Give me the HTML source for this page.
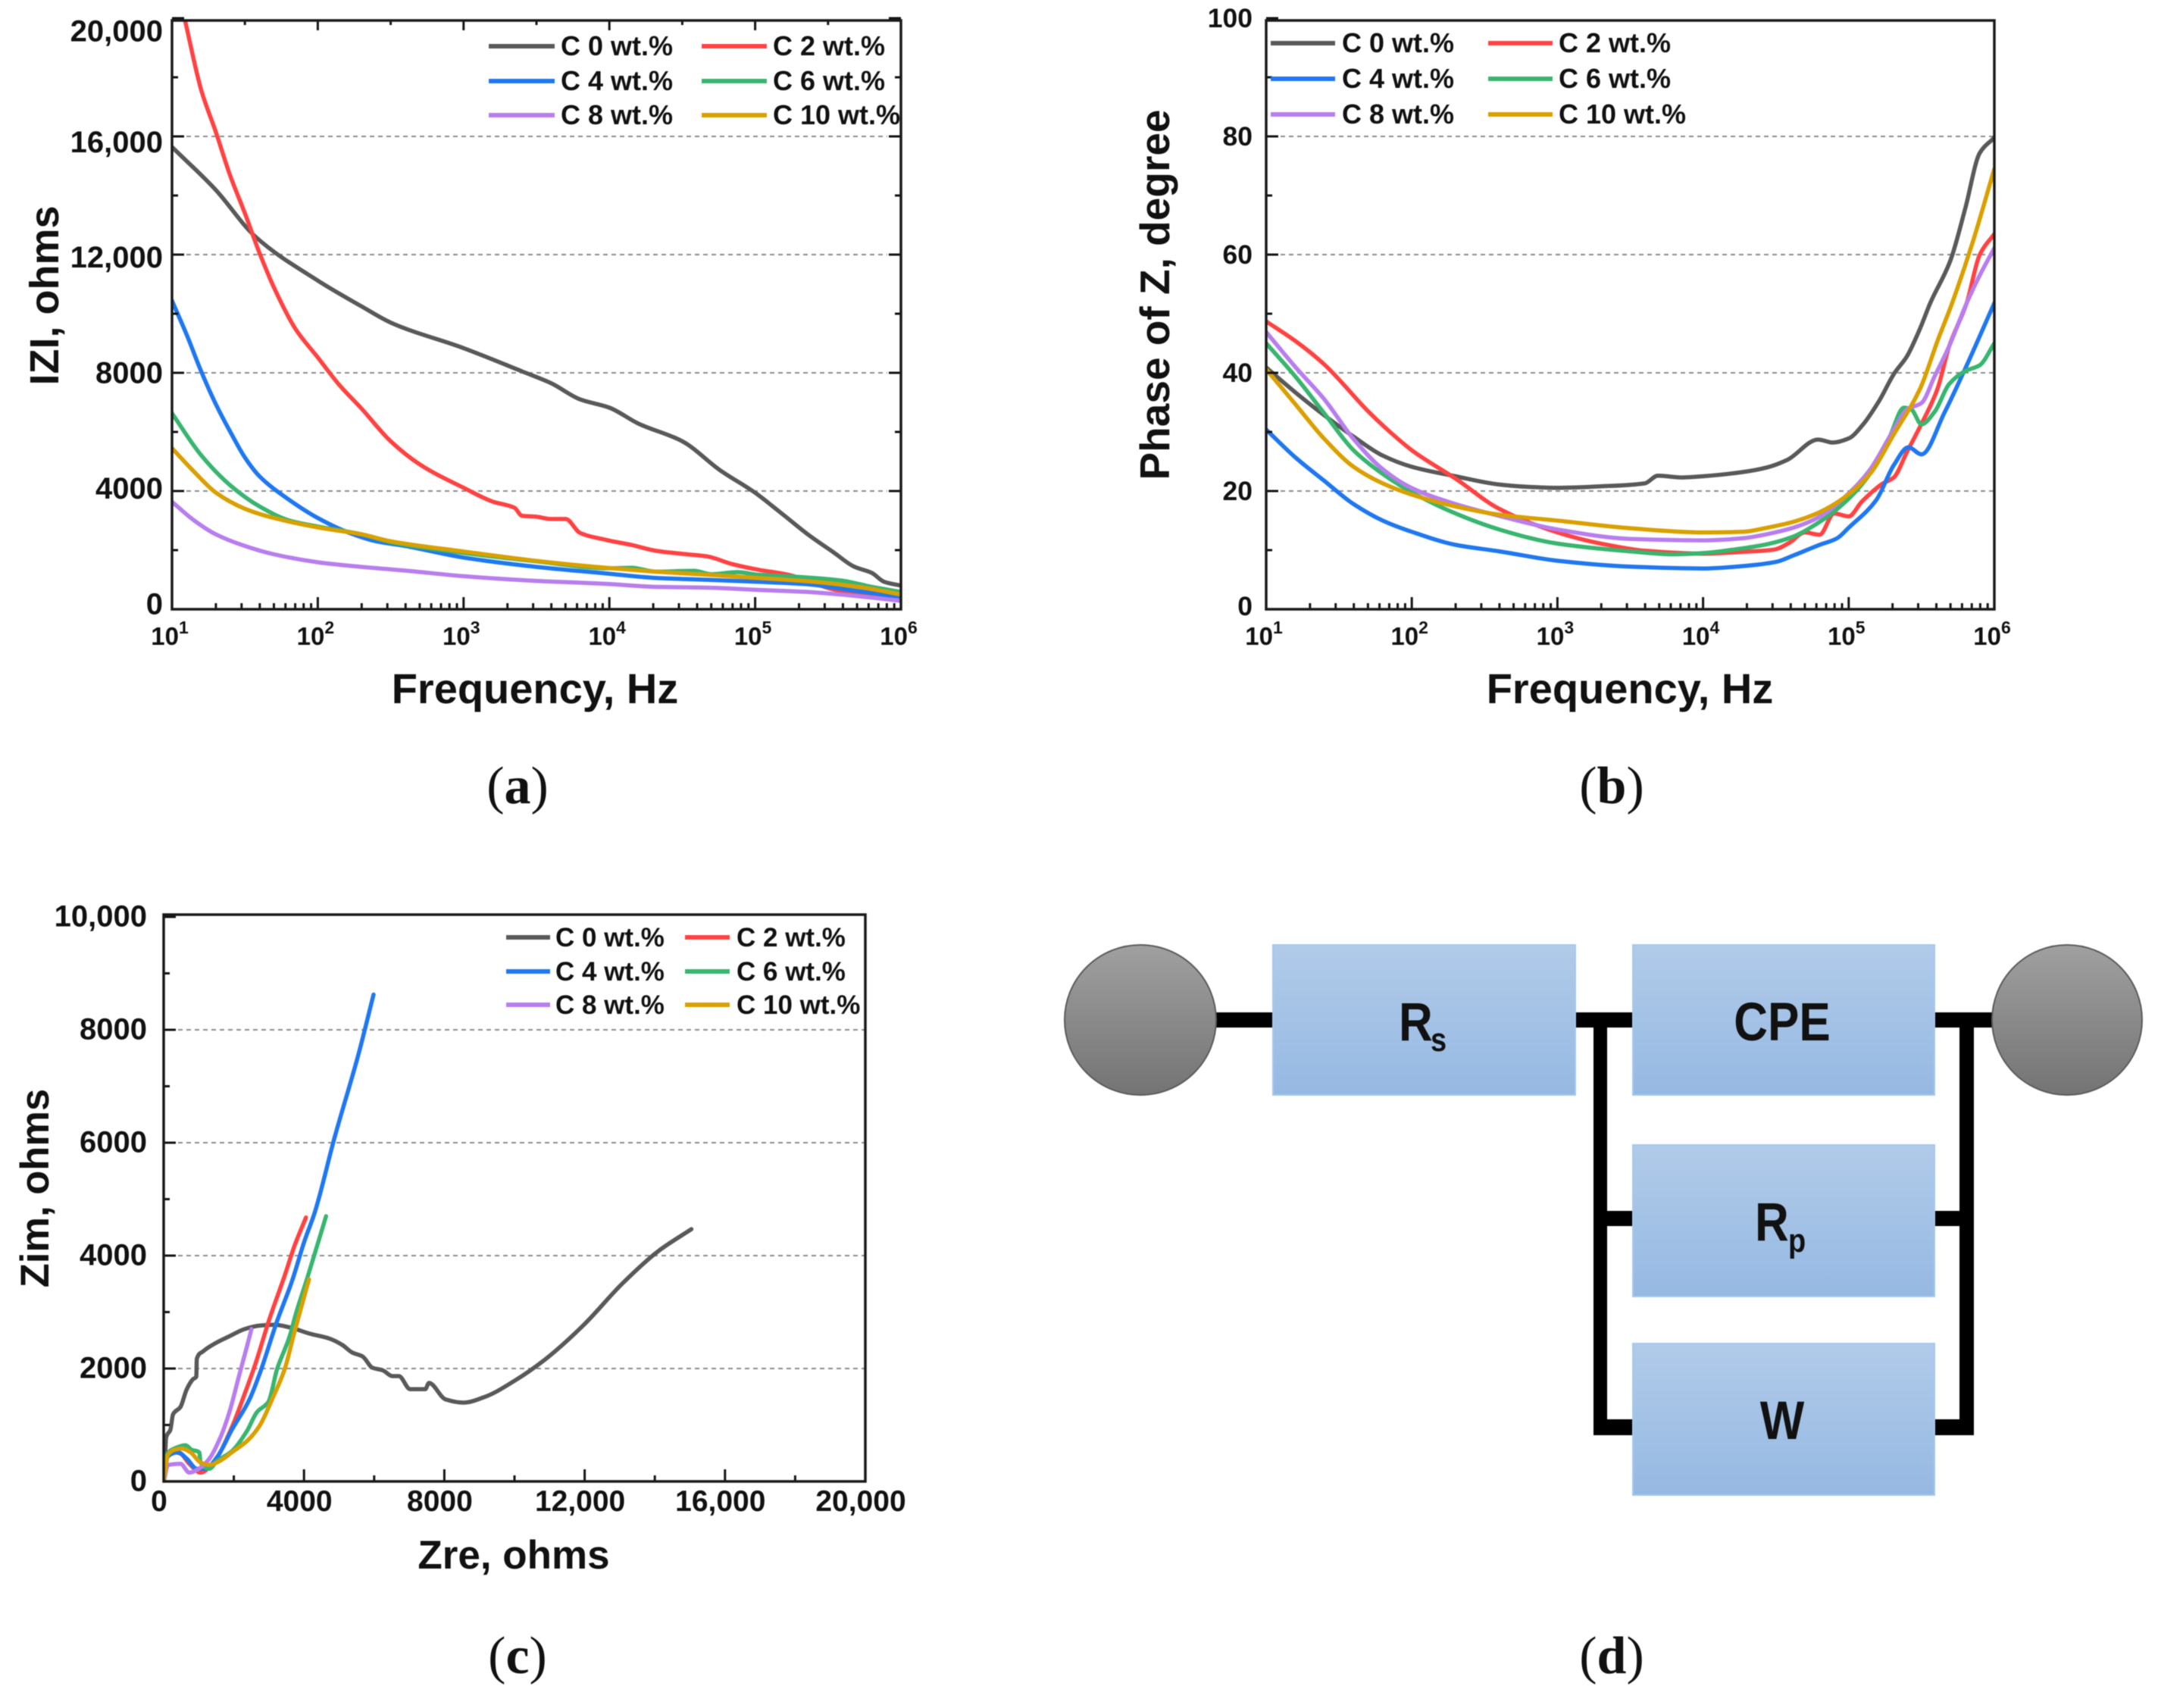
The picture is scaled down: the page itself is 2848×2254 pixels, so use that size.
<!DOCTYPE html>
<html lang="en">
<head>
<meta charset="utf-8">
<title>Impedance spectra and equivalent circuit</title>
<style>
html,body{margin:0;padding:0;background:#fff;}
svg{display:block;filter:blur(0.6px);}
text{font-family:"Liberation Sans",sans-serif;fill:#111;}
.bold{font-weight:bold;}
.caption{font-family:"Liberation Serif",serif;font-size:70px;}
</style>
</head>
<body>
<svg id="figure" xmlns="http://www.w3.org/2000/svg" width="2848" height="2254" viewBox="0 0 2848 2254">
  <defs>
    <linearGradient id="boxFill" x1="0" y1="0" x2="0" y2="1"><stop offset="0" stop-color="#b1cbe9"/><stop offset="1" stop-color="#96b9e3"/></linearGradient>
    <linearGradient id="ballFill" x1="0" y1="0" x2="0" y2="1"><stop offset="0" stop-color="#a0a0a0"/><stop offset="1" stop-color="#747474"/></linearGradient>
    <clipPath id="clipA"><rect x="227" y="27" width="962" height="777"/></clipPath>
    <clipPath id="clipB"><rect x="1671" y="27" width="961" height="777"/></clipPath>
    <clipPath id="clipC"><rect x="216" y="1207" width="926" height="748"/></clipPath>
  </defs>
  <rect width="2848" height="2254" fill="#fff"/>
  <g id="chartA"></g>
  <g id="chartB"></g>
  <g id="chartC"></g>

  <g>
    <g fill="#000">
      <rect x="1600" y="1336" width="85" height="20"/>
      <rect x="2075" y="1336" width="85" height="20"/>
      <rect x="2550" y="1336" width="85" height="20"/>
      <rect x="2103" y="1336" width="18" height="558"/>
      <rect x="2586" y="1336" width="19" height="558"/>
      <rect x="2103" y="1598" width="57" height="20"/>
      <rect x="2550" y="1598" width="55" height="20"/>
      <rect x="2103" y="1873" width="57" height="21"/>
      <rect x="2550" y="1873" width="55" height="21"/>
    </g>
    <ellipse cx="1505" cy="1346" rx="100" ry="99" fill="url(#ballFill)" stroke="#5c5c5c" stroke-width="2"/>
    <ellipse cx="2728" cy="1346" rx="99" ry="99" fill="url(#ballFill)" stroke="#5c5c5c" stroke-width="2"/>
    <rect x="1680" y="1247" width="399" height="198" fill="url(#boxFill)" stroke="#a5c8ee" stroke-width="2"/>
    <rect x="2155" y="1247" width="398" height="198" fill="url(#boxFill)" stroke="#a5c8ee" stroke-width="2"/>
    <rect x="2155" y="1511" width="398" height="200" fill="url(#boxFill)" stroke="#a5c8ee" stroke-width="2"/>
    <rect x="2155" y="1773" width="398" height="200" fill="url(#boxFill)" stroke="#a5c8ee" stroke-width="2"/>
    <text class="bold" transform="translate(1846,1373) scale(1,1.15)" font-size="62">R</text>
    <text class="bold" transform="translate(1888,1387) scale(1,1.15)" font-size="38">s</text>
    <text class="bold" transform="translate(2352,1373) scale(1,1.15)" font-size="62" text-anchor="middle">CPE</text>
    <text class="bold" transform="translate(2316,1637) scale(1,1.15)" font-size="62">R</text>
    <text class="bold" transform="translate(2360,1652) scale(1,1.15)" font-size="38">p</text>
    <text class="bold" transform="translate(2352,1899) scale(1,1.15)" font-size="62" text-anchor="middle">W</text>
  </g>

  <text class="caption" x="683" y="1060" text-anchor="middle">(<tspan font-weight="bold">a</tspan>)</text>
  <text class="caption" x="2127" y="1060" text-anchor="middle">(<tspan font-weight="bold">b</tspan>)</text>
  <text class="caption" x="683" y="2208" text-anchor="middle">(<tspan font-weight="bold">c</tspan>)</text>
  <text class="caption" x="2127" y="2208" text-anchor="middle">(<tspan font-weight="bold">d</tspan>)</text>
</svg>

<script>
// Shared legend data
const seriesNames = ['C 0 wt.%', 'C 2 wt.%', 'C 4 wt.%', 'C 6 wt.%', 'C 8 wt.%', 'C 10 wt.%'];
const seriesColors = ['#595959', '#ff4242', '#1f78ef', '#38b56e', '#b87eee', '#d9a000'];

// Panel (a): |Z| vs log10(frequency)
const magYTicks = [0, 4000, 8000, 12000, 16000, 20000];
const magYLabels = ['0', '4000', '8000', '12,000', '16,000', '20,000'];
const logFreqTicks = [1, 2, 3, 4, 5, 6];
const magLogF0 = [1, 1.3, 1.57, 2, 2.3, 2.5, 3, 3.4, 3.6, 3.8, 4, 4.2, 4.5, 4.757, 5, 5.19, 5.365, 5.54, 5.677, 5.8, 5.885, 6];
const magZ0 = [15640, 14190, 12615, 11120, 10250, 9700, 8835, 8050, 7650, 7100, 6820, 6280, 5685, 4713, 3940, 3208, 2520, 1918, 1445, 1230, 929, 800];
const magLogF2 = [1.086, 1.2, 1.3, 1.4, 1.5, 1.6, 1.7, 1.85, 2, 2.15, 2.3, 2.5, 2.7, 3, 3.2, 3.35, 3.4, 3.5, 3.6, 3.7, 3.8, 3.976, 4.15, 4.32, 4.5, 4.67, 4.84, 5.017, 5.226, 5.54, 5.71, 6];
const magZ2 = [20000, 17575, 16160, 14660, 13400, 12060, 10880, 9465, 8520, 7575, 6790, 5685, 4900, 4110, 3640, 3430, 3165, 3130, 3055, 3055, 2580, 2348, 2176, 1978, 1875, 1789, 1531, 1342, 1170, 670, 542, 370];
const magLogF4 = [1, 1.1, 1.2, 1.3, 1.4, 1.5, 1.6, 1.8, 2, 2.2, 2.4, 2.6, 3, 3.5, 3.976, 4.32, 4.67, 5.017, 5.365, 5.625, 6];
const magZ4 = [10440, 9300, 8050, 6945, 6000, 5135, 4500, 3716, 3087, 2615, 2300, 2140, 1750, 1433, 1213, 1058, 998, 929, 843, 670, 413];
const magLogF6 = [1, 1.2, 1.4, 1.6, 1.8, 2, 2.3, 2.5, 3, 3.5, 4, 4.15, 4.32, 4.58, 4.7, 4.88, 5.017, 5.28, 5.59, 5.8, 6];
const magZ6 = [6630, 5210, 4190, 3480, 3010, 2800, 2535, 2270, 1905, 1620, 1386, 1402, 1273, 1299, 1187, 1256, 1170, 1100, 972, 757, 585];
const magLogF8 = [1, 1.15, 1.3, 1.5, 1.7, 2, 2.3, 2.6, 3, 3.5, 3.976, 4.32, 4.67, 5.017, 5.365, 5.625, 6];
const magZ8 = [3637, 3010, 2535, 2140, 1858, 1590, 1433, 1307, 1118, 960, 860, 757, 731, 654, 585, 482, 284];
const magLogF10 = [1, 1.15, 1.3, 1.5, 1.7, 2, 2.3, 2.5, 3, 3.5, 3.976, 4.32, 4.67, 5.017, 5.365, 5.71, 6];
const magZ10 = [5450, 4660, 3950, 3400, 3087, 2770, 2535, 2300, 1953, 1637, 1402, 1273, 1170, 1058, 946, 757, 499];

// Panel (b): phase vs log10(frequency)
const phaseYTicks = [0, 20, 40, 60, 80, 100];
const phaseYLabels = ['0', '20', '40', '60', '80', '100'];
const phaseLogF0 = [1, 1.2, 1.4, 1.6, 1.8, 2, 2.3, 2.6, 2.8, 3, 3.3, 3.6, 3.69, 3.85, 4, 4.27, 4.44, 4.58, 4.79, 4.89, 5, 5.1, 5.21, 5.31, 5.4, 5.49, 5.56, 5.7, 5.8, 5.9, 6];
const phase0 = [40.9, 36.7, 32.8, 29.2, 26, 24.1, 22.5, 21.1, 20.7, 20.55, 20.8, 21.3, 22.6, 22.3, 22.5, 23.2, 24, 25.3, 28.7, 28.2, 28.9, 31.3, 35.3, 39.8, 42.8, 47.5, 51.8, 59.1, 67.8, 77.2, 79.8];
const phaseLogF2 = [1, 1.2, 1.4, 1.7, 1.85, 2, 2.3, 2.6, 3, 3.3, 3.6, 4, 4.27, 4.49, 4.59, 4.7, 4.8, 4.9, 5, 5.09, 5.23, 5.31, 5.4, 5.49, 5.61, 5.69, 5.81, 5.9, 6];
const phase2 = [48.7, 45.4, 41.4, 33.5, 30, 26.9, 22.1, 17, 13, 11.1, 9.9, 9.4, 9.7, 10.1, 11.2, 13, 12.6, 16.2, 15.7, 18.2, 21.2, 22.3, 26.6, 30.9, 37.3, 44.5, 51.8, 60, 63.5];
const phaseLogF4 = [1, 1.2, 1.4, 1.6, 1.8, 2, 2.3, 2.6, 3, 3.5, 4, 4.27, 4.5, 4.62, 4.79, 4.92, 5, 5.19, 5.31, 5.41, 5.5, 5.66, 5.8, 6];
const phase4 = [30.4, 25.7, 21.7, 17.8, 15, 13.1, 10.9, 9.8, 8.2, 7.2, 6.9, 7.3, 8, 9.1, 10.8, 12, 13.8, 18.5, 24.4, 27.4, 26.2, 33.4, 40.7, 51.8];
const phaseLogF6 = [1, 1.2, 1.4, 1.6, 1.8, 2, 2.3, 2.6, 3, 3.5, 3.8, 4, 4.27, 4.44, 4.62, 4.79, 4.97, 5.14, 5.28, 5.38, 5.43, 5.5, 5.59, 5.69, 5.8, 5.9, 6];
const phase6 = [45, 39.4, 33.1, 26.9, 22.9, 19.8, 16.2, 13.5, 11.1, 9.8, 9.3, 9.5, 10.3, 11, 12.3, 14.6, 18, 22.7, 29.1, 34.1, 33.8, 31.3, 33.4, 38.1, 40.3, 41.3, 45];
const phaseLogF8 = [1, 1.2, 1.4, 1.6, 1.8, 2, 2.3, 2.6, 3, 3.5, 4, 4.27, 4.44, 4.62, 4.79, 4.97, 5.14, 5.31, 5.4, 5.5, 5.59, 5.69, 5.81, 5.9, 6];
const phase8 = [46.9, 41, 35.5, 28.8, 23.7, 20.5, 17.8, 15.8, 13.5, 11.9, 11.65, 12, 12.7, 13.8, 15.5, 18.9, 23.4, 30.4, 33.8, 34.9, 39.4, 44.5, 51.8, 56.5, 61.1];
const phaseLogF10 = [1, 1.2, 1.4, 1.6, 1.8, 2, 2.3, 2.6, 3, 3.5, 4, 4.27, 4.44, 4.62, 4.79, 4.97, 5.14, 5.31, 5.49, 5.61, 5.71, 5.85, 6];
const phase10 = [40.6, 34.7, 28.8, 24.1, 21.3, 19.4, 17.4, 16, 15, 13.7, 13, 13.1, 13.8, 14.8, 16.3, 18.9, 22.7, 29.6, 37.3, 45.4, 51.8, 62, 74.5];

// Panel (c): Nyquist plot, Zim vs Zre
const zreTicks = [0, 4000, 8000, 12000, 16000, 20000];
const zreLabels = ['0', '4000', '8000', '12,000', '16,000', '20,000'];
const zimTicks = [0, 2000, 4000, 6000, 8000, 10000];
const zimLabels = ['0', '2000', '4000', '6000', '8000', '10,000'];
const zre0 = [0, 29, 72, 193, 265, 479, 658, 837, 930, 944, 1123, 1445, 1875, 2304, 2733, 3163, 3592, 4164, 4737, 5095, 5381, 5667, 5953, 6239, 6525, 6704, 7026, 7455, 7563, 8034, 8547, 9145, 10000, 10855, 11966, 13077, 14103, 15043];
const zim0 = [0, 290, 783, 917, 1186, 1320, 1633, 1812, 1857, 2170, 2304, 2438, 2572, 2698, 2760, 2774, 2729, 2617, 2528, 2416, 2282, 2215, 2013, 1969, 1866, 1866, 1633, 1633, 1745, 1454, 1396, 1495, 1782, 2152, 2768, 3507, 4082, 4468];
const zre2 = [0, 86, 300, 479, 730, 1052, 1445, 1946, 2304, 2590, 3020, 3449, 3735, 4057];
const zim2 = [22, 403, 515, 492, 313, 157, 358, 962, 1544, 2036, 2886, 3646, 4183, 4675];
const zre4 = [0, 122, 408, 658, 944, 1195, 1517, 1946, 2447, 2733, 3234, 3663, 4021, 4307, 4872, 5556, 5983];
const zim4 = [22, 447, 515, 403, 224, 224, 425, 917, 1454, 1901, 2841, 3557, 4273, 4765, 6094, 7572, 8624];
const zre6 = [0, 86, 300, 622, 801, 1016, 1052, 1302, 1517, 1946, 2375, 2662, 2984, 3234, 3592, 3771, 4093, 4379, 4629];
const zim6 = [45, 470, 582, 640, 559, 515, 335, 224, 358, 537, 895, 1230, 1409, 1991, 2572, 2975, 3602, 4183, 4698];
const zre8 = [14, 122, 479, 730, 1052, 1302, 1588, 1875, 2161, 2375, 2504];
const zim8 = [22, 290, 313, 157, 246, 403, 738, 1230, 1901, 2394, 2698];
const zre10 = [0, 122, 300, 515, 766, 1052, 1302, 1588, 1946, 2375, 2733, 3091, 3449, 3735, 4143];
const zim10 = [22, 470, 559, 582, 515, 335, 291, 358, 515, 716, 984, 1454, 1991, 2662, 3579];

const SVG_NS = 'http://www.w3.org/2000/svg';

function make(parent, tag, attrs, content) {
  const node = document.createElementNS(SVG_NS, tag);
  for (const key in attrs) node.setAttribute(key, attrs[key]);
  if (content !== undefined) node.textContent = content;
  parent.appendChild(node);
  return node;
}

// Monotone cubic through the points: smooth curves, no overshoot at kinks
function monotonePath(px, py) {
  const n = px.length;
  const dx = [], slope = [], m = [];
  for (let i = 0; i < n - 1; i++) {
    dx[i] = Math.max(px[i + 1] - px[i], 0.01);
    slope[i] = (py[i + 1] - py[i]) / dx[i];
  }
  m[0] = slope[0];
  m[n - 1] = slope[n - 2];
  for (let i = 1; i < n - 1; i++) {
    if (slope[i - 1] * slope[i] <= 0) {
      m[i] = 0;
    } else {
      const w1 = 2 * dx[i] + dx[i - 1];
      const w2 = dx[i] + 2 * dx[i - 1];
      m[i] = (w1 + w2) / (w1 / slope[i - 1] + w2 / slope[i]);
    }
  }
  let d = 'M' + px[0].toFixed(1) + ' ' + py[0].toFixed(1);
  for (let i = 0; i < n - 1; i++) {
    const h = dx[i] / 3;
    d += 'C' + (px[i] + h).toFixed(1) + ' ' + (py[i] + m[i] * h).toFixed(1) + ' ' +
         (px[i + 1] - h).toFixed(1) + ' ' + (py[i + 1] - m[i + 1] * h).toFixed(1) + ' ' +
         px[i + 1].toFixed(1) + ' ' + py[i + 1].toFixed(1);
  }
  return d;
}

function drawChart(cfg) {
  const root = document.getElementById(cfg.id);
  const xScale = v => cfg.left + (v - cfg.xMin) / (cfg.xMax - cfg.xMin) * (cfg.right - cfg.left);
  const yScale = v => cfg.bottom - (v - cfg.yTicks[0]) / (cfg.yTicks[cfg.yTicks.length - 1] - cfg.yTicks[0]) * (cfg.bottom - cfg.yTop);

  // gridlines
  cfg.yTicks.slice(1, -1).forEach(v => {
    const grid = make(root, 'line', {x1: cfg.left + 19, x2: cfg.gridEnd, y1: yScale(v), y2: yScale(v), stroke: '#8c8c8c', 'stroke-width': 2, 'stroke-dasharray': '6 5'});
    
    
  });

  // series
  const seriesGroup = make(root, 'g', {'clip-path': 'url(#' + cfg.clip + ')'});
  
  
  cfg.series.forEach((s, i) => {
    const d = monotonePath(s.x.map(xScale), s.y.map(yScale));
    const curve = make(seriesGroup, 'path', {d: d, fill: 'none', stroke: seriesColors[i], 'stroke-width': 5.5, 'stroke-linejoin': 'round', 'stroke-linecap': 'round'});
    
    
  });

  // ticks
  const tickStyle = {stroke: '#151515', 'stroke-width': 3};
  const addVTick = (v, len, fromTop) => {
    const y0 = fromTop ? cfg.top : cfg.bottom;
    const y1 = fromTop ? cfg.top + len : cfg.bottom - len;
    const t = make(root, 'line', Object.assign({x1: xScale(v), x2: xScale(v), y1: y0, y2: y1}, tickStyle));
    
    
  };
  const addHTick = (v, len, fromRight) => {
    const x0 = fromRight ? cfg.right : cfg.left;
    const x1 = fromRight ? cfg.right - len : cfg.left + len;
    const t = make(root, 'line', Object.assign({x1: x0, x2: x1, y1: yScale(v), y2: yScale(v)}, tickStyle));
    
    
  };

  cfg.yTicks.forEach((v, i) => {
    addHTick(v, 16, false);
    if (cfg.rightTicks) addHTick(v, 16, true);
    if (i < cfg.yTicks.length - 1) {
      const mid = (v + cfg.yTicks[i + 1]) / 2;
      addHTick(mid, 8, false);
      if (cfg.rightTicks) addHTick(mid, 8, true);
    }
  });
  cfg.xTicks.forEach((v, i) => {
    addVTick(v, 16, false);
    if (cfg.topTicks) addVTick(v, 13, true);
    if (i < cfg.xTicks.length - 1) {
      const next = cfg.xTicks[i + 1];
      if (cfg.logMinor) {
        for (let m = 2; m <= 9; m++) addVTick(v + Math.log10(m), 8, false);
        if (cfg.topTicks) addVTick((v + next) / 2, 6, true);
      } else {
        addVTick((v + next) / 2, 8, false);
      }
    }
  });

  // frame
  const frame = make(root, 'rect', {x: cfg.left, y: cfg.top, width: cfg.right - cfg.left, height: cfg.bottom - cfg.top, fill: 'none', stroke: '#1a1a1a', 'stroke-width': 3.5});
  
  

  // y tick labels
  cfg.yLabels.forEach((label, i) => {
    const ly = cfg.yLabelPos(yScale(cfg.yTicks[i]), i) + cfg.yFont * 0.36;
    const t = make(root, 'text', {x: cfg.yLabelRight, y: ly, 'text-anchor': 'end', 'font-size': cfg.yFont, 'font-weight': 'bold'}, label);
    
    
  });

  // x tick labels
  cfg.xLabels.forEach((label, i) => {
    const t = make(root, 'text', {x: xScale(cfg.xTicks[i]) + cfg.xLabelShift, y: cfg.xLabelBase, 'text-anchor': 'middle', 'font-size': cfg.xFont, 'font-weight': 'bold'});
    
    
    if (cfg.logMinor) {
      make(t, 'tspan', {}, '10');
      make(t, 'tspan', {dy: -15, 'font-size': 23}, String(label));
    } else {
      t.textContent = label;
    }
  });

  // axis titles
  const xt = make(root, 'text', {x: cfg.xTitleX, y: cfg.xTitleY, 'text-anchor': 'middle', 'font-size': cfg.xTitleFont, 'font-weight': 'bold'}, cfg.xTitle);
  
  
  const yt = make(root, 'text', {transform: 'translate(' + cfg.yTitleX + ',' + cfg.yTitleY + ') rotate(-90)', 'text-anchor': 'middle', 'font-size': cfg.yTitleFont, 'font-weight': 'bold'}, cfg.yTitle);
  
  

  // legend
  const legend = make(root, 'g', {});
  
  
  seriesNames.forEach((name, i) => {
    const col = cfg.legendCols[i % 2];
    const rowY = cfg.legendRows[Math.floor(i / 2)];
    const key = make(legend, 'line', {x1: col[0], x2: col[1], y1: rowY, y2: rowY, stroke: seriesColors[i], 'stroke-width': 6});
    
    
    const label = make(legend, 'text', {x: col[2], y: rowY + 12, 'font-size': cfg.legendFont, 'font-weight': 'bold'}, name);
    
    
  });
}

drawChart({
  id: 'chartA', clip: 'clipA', left: 227, right: 1189, top: 27, bottom: 804, yTop: 24, gridEnd: 1171,
  xMin: 1, xMax: 6, xTicks: logFreqTicks, xLabels: logFreqTicks, logMinor: true, topTicks: true, rightTicks: true,
  yTicks: magYTicks, yLabels: magYLabels, yLabelRight: 215, yFont: 40,
  yLabelPos: (py, i) => py + (i === 5 ? 16 : -8 + i * 3.6),
  xFont: 33, xLabelBase: 851, xLabelShift: -3,
  xTitle: 'Frequency, Hz', xTitleX: 706, xTitleY: 928, xTitleFont: 56,
  yTitle: 'IZI, ohms', yTitleX: 77, yTitleY: 390, yTitleFont: 54,
  legendCols: [[645, 732, 740], [926, 1012, 1020]], legendRows: [61, 107, 152], legendFont: 36,
  series: [{x: magLogF0, y: magZ0}, {x: magLogF2, y: magZ2}, {x: magLogF4, y: magZ4}, {x: magLogF6, y: magZ6}, {x: magLogF8, y: magZ8}, {x: magLogF10, y: magZ10}]
});

drawChart({
  id: 'chartB', clip: 'clipB', left: 1671, right: 2632, top: 27, bottom: 804, yTop: 24, gridEnd: 2632,
  xMin: 1, xMax: 6, xTicks: logFreqTicks, xLabels: logFreqTicks, logMinor: true, topTicks: false, rightTicks: false,
  yTicks: phaseYTicks, yLabels: phaseYLabels, yLabelRight: 1653, yFont: 35.5,
  yLabelPos: (py, i) => py - (i === 0 ? 5 : 1),
  xFont: 33, xLabelBase: 851, xLabelShift: -3,
  xTitle: 'Frequency, Hz', xTitleX: 2151, xTitleY: 928, xTitleFont: 56,
  yTitle: 'Phase of Z, degree', yTitleX: 1543, yTitleY: 389, yTitleFont: 55,
  legendCols: [[1677, 1762, 1771], [1964, 2049, 2057]], legendRows: [57, 104, 151], legendFont: 36,
  series: [{x: phaseLogF0, y: phase0}, {x: phaseLogF2, y: phase2}, {x: phaseLogF4, y: phase4}, {x: phaseLogF6, y: phase6}, {x: phaseLogF8, y: phase8}, {x: phaseLogF10, y: phase10}]
});

drawChart({
  id: 'chartC', clip: 'clipC', left: 216, right: 1142, top: 1207, bottom: 1955, yTop: 1210, gridEnd: 1142,
  xMin: 0, xMax: 20000, xTicks: zreTicks, xLabels: zreLabels, logMinor: false, topTicks: false, rightTicks: false,
  yTicks: zimTicks, yLabels: zimLabels, yLabelRight: 194, yFont: 40,
  yLabelPos: (py, i) => py - 2,
  xFont: 39, xLabelBase: 1994, xLabelShift: -6,
  xTitle: 'Zre, ohms', xTitleX: 678, xTitleY: 2070, xTitleFont: 53,
  yTitle: 'Zim, ohms', yTitleX: 64, yTitleY: 1568, yTitleFont: 52.5,
  legendCols: [[668, 726, 733], [904, 963, 972]], legendRows: [1237, 1282, 1326], legendFont: 35,
  series: [{x: zre0, y: zim0}, {x: zre2, y: zim2}, {x: zre4, y: zim4}, {x: zre6, y: zim6}, {x: zre8, y: zim8}, {x: zre10, y: zim10}]
});
</script>
</body>
</html>
